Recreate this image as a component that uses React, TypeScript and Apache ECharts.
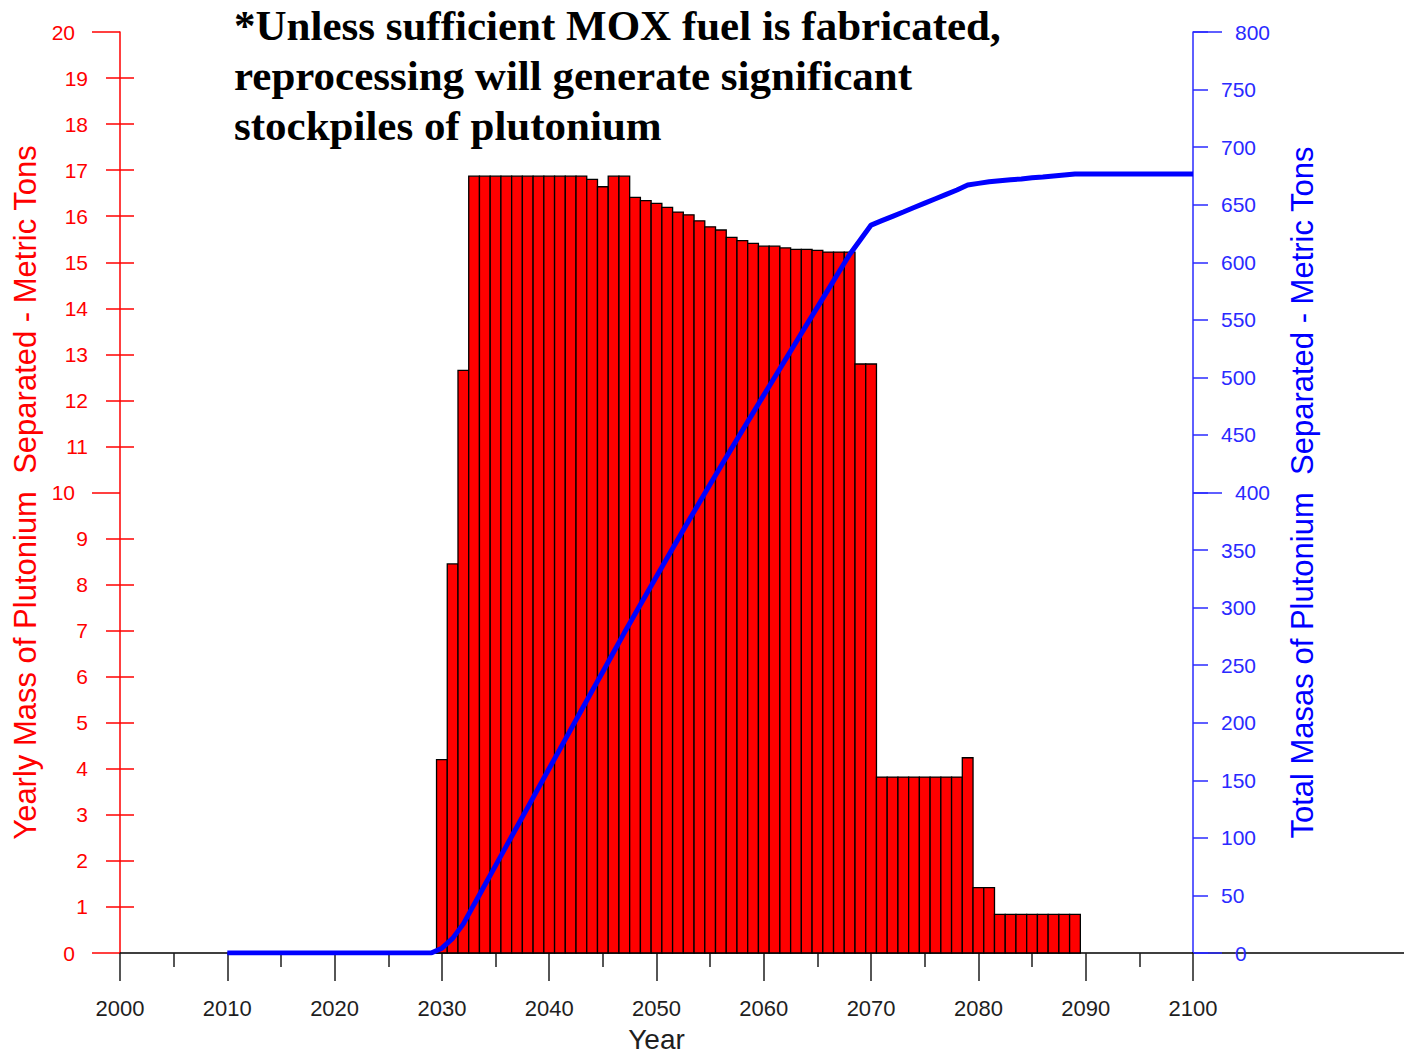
import React, { useEffect, useRef } from 'react';
import * as echarts from 'echarts';

// Yearly mass of plutonium separated (metric tons), one bar per year
const barYears = [
  2030, 2031, 2032, 2033, 2034, 2035, 2036, 2037, 2038, 2039,
  2040, 2041, 2042, 2043, 2044, 2045, 2046, 2047, 2048, 2049,
  2050, 2051, 2052, 2053, 2054, 2055, 2056, 2057, 2058, 2059,
  2060, 2061, 2062, 2063, 2064, 2065, 2066, 2067, 2068, 2069,
  2070, 2071, 2072, 2073, 2074, 2075, 2076, 2077, 2078, 2079,
  2080, 2081, 2082, 2083, 2084, 2085, 2086, 2087, 2088, 2089,
];
const barValues = [
  4.2, 8.45, 12.65, 16.87, 16.87, 16.87, 16.87, 16.87, 16.87, 16.87,
  16.87, 16.87, 16.87, 16.87, 16.8, 16.64, 16.87, 16.87, 16.41, 16.34,
  16.28, 16.19, 16.09, 16.03, 15.9, 15.77, 15.7, 15.54, 15.47, 15.41,
  15.35, 15.35, 15.31, 15.28, 15.28, 15.26, 15.22, 15.22, 15.22, 12.79,
  12.79, 3.82, 3.82, 3.82, 3.82, 3.82, 3.82, 3.82, 3.82, 4.24,
  1.42, 1.42, 0.84, 0.84, 0.84, 0.84, 0.84, 0.84, 0.84, 0.84,
];

// Total (cumulative) mass separated, metric tons
const lineYears = [
  2010, 2029,
  2030, 2031, 2032, 2033, 2034, 2035, 2036, 2037, 2038, 2039,
  2040, 2041, 2042, 2043, 2044, 2045, 2046, 2047, 2048, 2049,
  2050, 2051, 2052, 2053, 2054, 2055, 2056, 2057, 2058, 2059,
  2060, 2061, 2062, 2063, 2064, 2065, 2066, 2067, 2068, 2069,
  2070, 2071, 2072, 2073, 2074, 2075, 2076, 2077, 2078, 2079,
  2080, 2081, 2082, 2083, 2084, 2085, 2086, 2087, 2088, 2089,
  2100,
];
const lineValues = [
  0, 0,
  4.2, 12.7, 25.3, 42.2, 59.0, 75.9, 92.8, 109.7, 126.5, 143.4,
  160.3, 177.1, 194.0, 210.9, 227.7, 244.3, 261.2, 278.1, 294.5, 310.8,
  327.1, 343.3, 359.4, 375.4, 391.3, 407.1, 422.8, 438.3, 453.8, 469.2,
  484.6, 499.9, 515.2, 530.5, 545.8, 561.0, 576.2, 591.5, 606.7, 619.5,
  632.3, 636.1, 639.9, 643.7, 647.6, 651.4, 655.2, 659.0, 662.8, 667.1,
  668.5, 669.9, 670.8, 671.6, 672.4, 673.3, 674.1, 675.0, 675.8, 676.6,
  676.6,
];

const titleLines = [
  '*Unless sufficient MOX fuel is fabricated,',
  'reprocessing will generate significant',
  'stockpiles of plutonium',
];
const xAxisName = 'Year';
const leftAxisName = 'Yearly Mass of Plutonium  Separated - Metric Tons';
const rightAxisName = 'Total Masas of Plutonium  Separated - Metric Tons';

const RED = '#ff0000';
const BLUE = '#0000ff';
const AXBLUE = '#2a2aff';
const DARK = '#1e1e1e';
const FONT = '"Liberation Sans", Arial, sans-serif';

export default function App() {
  const ref = useRef<HTMLDivElement>(null);

  useEffect(() => {
    if (!ref.current) return;
    const chart = echarts.init(ref.current, undefined, { renderer: 'svg' });

    const option: any = {
      animation: false,
      backgroundColor: '#ffffff',
      grid: [
        { left: 120, right: 211, top: 32, bottom: 101, containLabel: false, outerBoundsMode: 'none' },
        { left: 1193, right: 0, top: 32, bottom: 101, containLabel: false, outerBoundsMode: 'none' },
      ],
      graphic: [
        {
          type: 'text',
          left: 234,
          top: 0,
          style: {
            text: titleLines.join('\n'),
            fontFamily: '"Liberation Serif", "Times New Roman", serif',
            fontWeight: 'bold',
            fontSize: 43,
            lineHeight: 50,
            fill: '#000000',
          },
        },
      ],
      xAxis: [
        {
          type: 'value',
          gridIndex: 0,
          min: 2000,
          max: 2100,
          interval: 10,
          axisLine: { show: true, onZero: false, lineStyle: { color: '#000', width: 1.5 } },
          axisTick: { show: true, length: 28, lineStyle: { color: DARK, width: 1.5 } },
          minorTick: { show: true, splitNumber: 2, length: 14, lineStyle: { color: DARK, width: 1.5 } },
          axisLabel: {
            margin: 44,
            color: DARK,
            fontSize: 22,
            fontFamily: FONT,
            formatter: (v: number) => String(v),
          },
          splitLine: { show: false },
          name: xAxisName,
          nameLocation: 'middle',
          nameGap: 73,
          nameTextStyle: { color: DARK, fontSize: 28, lineHeight: 27, fontFamily: FONT },
        },
        {
          type: 'value',
          gridIndex: 1,
          min: 0,
          max: 1,
          axisLine: { show: true, onZero: false, lineStyle: { color: '#000', width: 1.5 } },
          axisTick: { show: false },
          axisLabel: { show: false },
          splitLine: { show: false },
        },
      ],
      yAxis: [
        {
          type: 'value',
          gridIndex: 0,
          position: 'left',
          min: 0,
          max: 20,
          interval: 1,
          axisLine: { show: true, onZero: false, lineStyle: { color: RED, width: 1.5 } },
          axisTick: { show: false },
          axisLabel: {
            margin: 32,
            color: RED,
            fontSize: 21,
            fontFamily: FONT,
            formatter: (v: number) => (v % 10 === 0 ? `{maj|${v}}` : String(v)),
            rich: {
              maj: { padding: [0, 13, 0, 0], color: RED, fontSize: 21, fontFamily: FONT },
            },
          },
          splitLine: { show: false },
          name: leftAxisName,
          nameLocation: 'middle',
          nameRotate: 90,
          nameGap: 78,
          nameTextStyle: { color: RED, fontSize: 31, fontFamily: FONT },
        },
        {
          type: 'value',
          gridIndex: 0,
          position: 'right',
          min: 0,
          max: 800,
          interval: 50,
          axisLine: { show: true, onZero: false, lineStyle: { color: AXBLUE, width: 1.5 } },
          axisTick: { show: true, length: 15, lineStyle: { color: AXBLUE, width: 1.5 } },
          axisLabel: {
            margin: 28,
            color: AXBLUE,
            fontSize: 21,
            fontFamily: FONT,
            formatter: (v: number) => (v % 400 === 0 ? `{maj|${v}}` : String(v)),
            rich: {
              maj: { padding: [0, 0, 0, 14], color: AXBLUE, fontSize: 21, fontFamily: FONT },
            },
          },
          splitLine: { show: false },
          name: rightAxisName,
          nameLocation: 'middle',
          nameRotate: 90,
          nameGap: 94,
          nameTextStyle: { color: BLUE, fontSize: 31, fontFamily: FONT },
        },
        {
          // minor ticks crossing the left axis
          type: 'value',
          gridIndex: 0,
          position: 'left',
          offset: -14,
          min: 0,
          max: 20,
          interval: 10,
          axisLine: { show: false },
          axisTick: { show: false },
          axisLabel: { show: false },
          minorTick: { show: true, splitNumber: 10, length: 28, lineStyle: { color: RED, width: 1.5 } },
          splitLine: { show: false },
        },
        {
          // long major ticks on the left axis
          type: 'value',
          gridIndex: 0,
          position: 'left',
          offset: 0,
          min: 0,
          max: 20,
          interval: 10,
          axisLine: { show: false },
          axisTick: { show: true, length: 28, lineStyle: { color: RED, width: 1.5 } },
          axisLabel: { show: false },
          splitLine: { show: false },
        },
        {
          // long major ticks on the right axis
          type: 'value',
          gridIndex: 0,
          position: 'right',
          offset: 0,
          min: 0,
          max: 800,
          interval: 400,
          axisLine: { show: false },
          axisTick: { show: true, length: 29, lineStyle: { color: AXBLUE, width: 1.5 } },
          axisLabel: { show: false },
          splitLine: { show: false },
        },
        {
          type: 'value',
          gridIndex: 1,
          show: false,
          min: 0,
          max: 1,
        },
      ],
      series: [
        {
          type: 'custom',
          xAxisIndex: 0,
          yAxisIndex: 0,
          data: barYears.map((y, i) => [y, barValues[i]]),
          encode: { x: 0, y: 1 },
          z: 2,
          renderItem: (params: any, api: any) => {
            const x = api.value(0);
            const v = api.value(1);
            const p0 = api.coord([x - 0.5, v]);
            const p1 = api.coord([x + 0.5, 0]);
            return {
              type: 'rect',
              shape: { x: p0[0], y: p0[1], width: p1[0] - p0[0], height: p1[1] - p0[1] },
              style: { fill: RED, stroke: '#000000', lineWidth: 1.3 },
            };
          },
        },
        {
          type: 'line',
          xAxisIndex: 0,
          yAxisIndex: 1,
          data: lineYears.map((y, i) => [y, lineValues[i]]),
          showSymbol: false,
          symbol: 'none',
          lineStyle: { color: BLUE, width: 5 },
          z: 3,
        },
      ],
    };

    chart.setOption(option);
    return () => chart.dispose();
  }, []);

  return (
    <div
      ref={ref}
      style={{ position: 'fixed', left: 0, top: 0, width: 1404, height: 1054, background: '#ffffff' }}
    />
  );
}
